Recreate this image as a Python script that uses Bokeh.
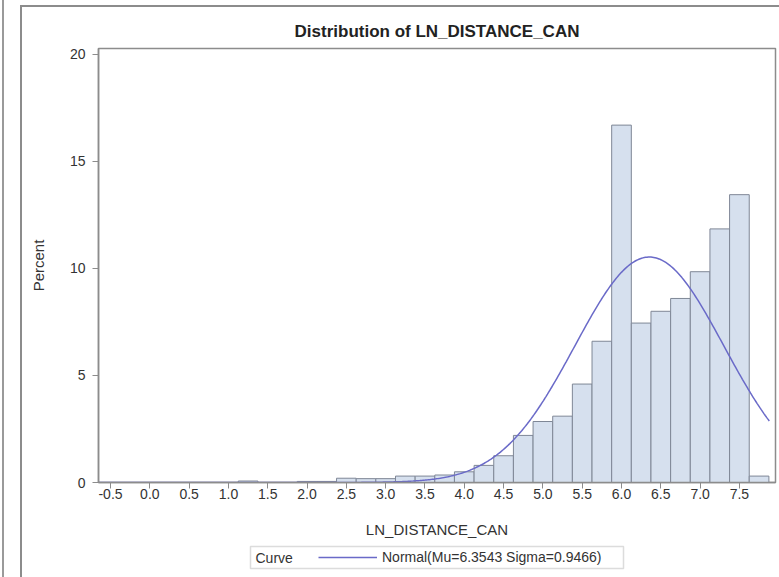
import numpy as np
from bokeh.plotting import figure
from bokeh.layouts import column
from bokeh.models import (Legend, LegendItem, Range1d, FixedTicker, NumeralTickFormatter,
                          Label, BoxAnnotation, InlineStyleSheet)
from bokeh.embed import file_html
from bokeh.resources import INLINE

# ---- data ----
bin_centers = [1.25, 2.0, 2.25, 2.5, 2.75, 3.0, 3.25, 3.5, 3.75, 4.0, 4.25, 4.5,
               4.75, 5.0, 5.25, 5.5, 5.75, 6.0, 6.25, 6.5, 6.75, 7.0, 7.25, 7.5, 7.75]
percent = [0.07, 0.05, 0.05, 0.2, 0.18, 0.18, 0.3, 0.3, 0.35, 0.5, 0.8, 1.25,
           2.2, 2.85, 3.1, 4.6, 6.6, 16.7, 7.45, 8.0, 8.6, 9.85, 11.85, 13.45, 0.3]
bin_width = 0.25
x_ticks = [-0.5, 0.0, 0.5, 1.0, 1.5, 2.0, 2.5, 3.0, 3.5, 4.0, 4.5, 5.0, 5.5, 6.0, 6.5, 7.0, 7.5]
x_tick_labels = ["-0.5", "0.0", "0.5", "1.0", "1.5", "2.0", "2.5", "3.0", "3.5",
                 "4.0", "4.5", "5.0", "5.5", "6.0", "6.5", "7.0", "7.5"]
y_ticks = [0, 5, 10, 15, 20]
mu = 6.3543
sigma = 0.9466
legend_title = "Curve"
legend_label = "Normal(Mu=6.3543 Sigma=0.9466)"

# fitted normal curve (in percent per bin), defined by the legend's parameters
curve_x = np.linspace(-0.653, 7.88, 500)
curve_y = 100 * bin_width * np.exp(-0.5 * ((curve_x - mu) / sigma) ** 2) / (sigma * np.sqrt(2 * np.pi))

FONT = "Liberation Sans"
GRAY = "#8c8c8c"
TEXT = "#333333"
BAR_FILL = "#D6E0EE"
BAR_LINE = "#7F8796"
CURVE = "#6A6AC8"

# ---------------- main chart ----------------
p = figure(width=779, height=540, output_backend="svg", toolbar_location=None,
           x_range=Range1d(-0.653, 7.959), y_range=Range1d(0, 20.28),
           min_border_left=98, min_border_right=4, min_border_top=48, min_border_bottom=58,
           title="Distribution of LN_DISTANCE_CAN")

p.title.text_font = FONT
p.title.text_font_size = "17px"
p.title.text_font_style = "bold"
p.title.text_color = "#222222"
p.title.align = "center"
p.title.standoff = 15

p.grid.visible = False
p.outline_line_color = GRAY
p.outline_line_width = 1.5
p.background_fill_color = "white"
p.border_fill_color = None

p.vbar(x=bin_centers, width=bin_width, top=percent, bottom=0,
       fill_color=BAR_FILL, line_color=BAR_LINE, line_width=1)
p.line(curve_x, curve_y, line_color=CURVE, line_width=1.5)

p.xaxis.ticker = FixedTicker(ticks=x_ticks)
p.xaxis.formatter = NumeralTickFormatter(format="0.0")
p.xaxis.major_label_overrides = dict(zip(x_ticks, x_tick_labels))
p.yaxis.ticker = FixedTicker(ticks=y_ticks)
p.xaxis.axis_label = "LN_DISTANCE_CAN"
p.yaxis.axis_label = "Percent"

for ax in (p.xaxis[0], p.yaxis[0]):
    ax.axis_line_color = GRAY
    ax.axis_line_width = 1.5
    ax.major_tick_line_color = GRAY
    ax.major_tick_out = 6
    ax.major_tick_in = 0
    ax.minor_tick_out = 0
    ax.minor_tick_in = 0
    ax.major_label_text_font = FONT
    ax.major_label_text_font_size = "14px"
    ax.major_label_text_color = TEXT
    ax.axis_label_text_font = FONT
    ax.axis_label_text_font_size = "15px"
    ax.axis_label_text_font_style = "normal"
    ax.axis_label_text_color = TEXT

p.xaxis.major_label_standoff = 0
p.xaxis.axis_label_standoff = 19
p.yaxis.major_label_standoff = 7
p.yaxis.axis_label_standoff = 20

# ---------------- legend strip (frame aligned with the chart's frame) ----------------
H2 = 37
q = figure(width=779, height=H2, output_backend="svg", toolbar_location=None,
           x_range=Range1d(98, 775), y_range=Range1d(0, H2),
           x_axis_type=None, y_axis_type=None,
           min_border_left=98, min_border_right=4, min_border_top=0, min_border_bottom=0)
q.grid.visible = False
q.outline_line_color = None
q.background_fill_color = None
q.border_fill_color = None

q.add_layout(BoxAnnotation(left=250, right=623, bottom=9, top=31,
                           fill_color="white", fill_alpha=1,
                           line_color=GRAY, line_width=1.5))
q.add_layout(Label(x=255, y=20, text=legend_title, text_font=FONT, text_font_size="14px",
                   text_color=TEXT, text_align="left", text_baseline="middle"))
# the same fitted curve (falls outside this strip's visible range) gives the legend its sample line
sample = q.line(curve_x, curve_y, line_color=CURVE, line_width=1.5)
legend = Legend(items=[LegendItem(label=legend_label, renderers=[sample])],
                location=(217, 9), orientation="horizontal")
legend.label_text_font = FONT
legend.label_text_font_size = "14px"
legend.label_text_color = TEXT
legend.glyph_width = 59
legend.glyph_height = 16
legend.label_height = 16
legend.label_standoff = 5
legend.padding = 3
legend.margin = 0
legend.border_line_alpha = 0
legend.background_fill_alpha = 0
q.add_layout(legend)

frame_css = InlineStyleSheet(css="""
:host { position: relative; }
:host::before { content: ""; position: absolute; left: 2px; top: 0; bottom: 0; width: 2px;
                background: #9a9a9a; pointer-events: none; }
:host::after { content: ""; position: absolute; left: 20px; top: 5px; right: 0; bottom: 0;
               border-left: 2px solid #8c8c8c; border-top: 2px solid #8c8c8c; pointer-events: none; }
""")
layout = column(p, q, spacing=0, stylesheets=[frame_css])

open("out.html", "w").write(file_html(layout, INLINE))
